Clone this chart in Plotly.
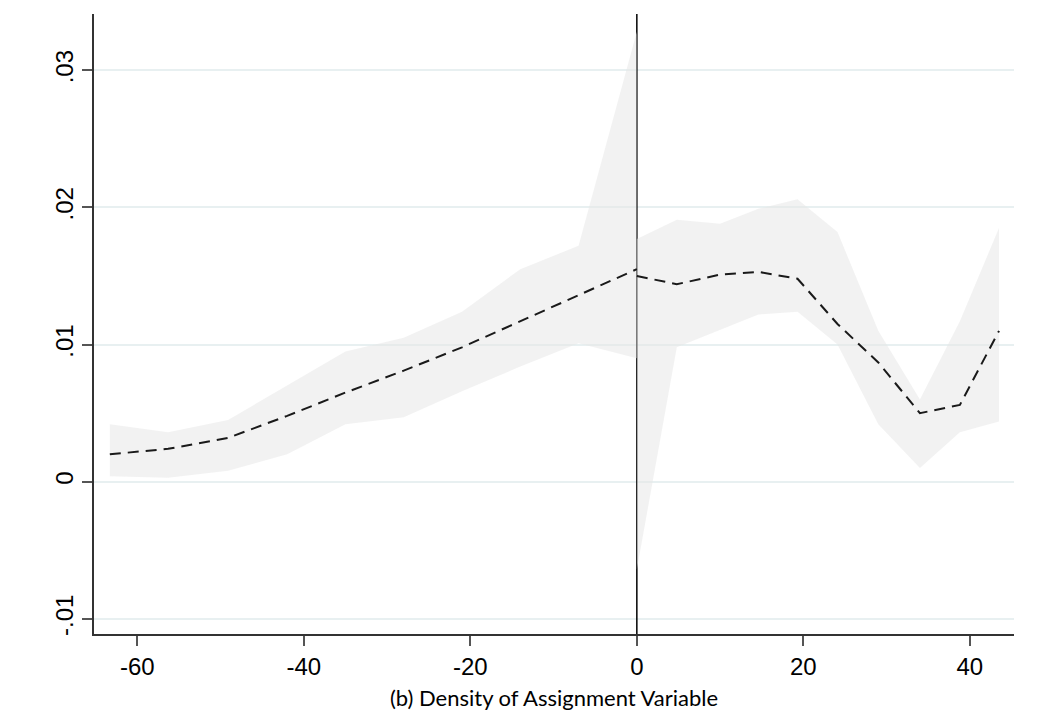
import plotly.graph_objects as go

# Left of cutoff
x_left = [-63.3, -56.3, -49.1, -42.0, -35.0, -28.0, -21.0, -14.0, -7.0, 0.0]
fit_left = [0.0020, 0.0024, 0.0032, 0.0048, 0.0065, 0.0081, 0.0098, 0.0117, 0.0136, 0.0155]
hi_left = [0.0042, 0.0036, 0.0045, 0.0070, 0.0095, 0.0105, 0.0124, 0.0155, 0.0172, 0.0328]
lo_left = [0.0004, 0.0003, 0.0008, 0.0020, 0.0042, 0.0047, 0.0066, 0.0084, 0.0101, 0.0090]

# Right of cutoff
x_right = [0.0, 4.8, 10.0, 14.6, 19.3, 24.1, 29.0, 34.0, 38.8, 43.5]
fit_right = [0.0150, 0.0144, 0.0151, 0.0153, 0.0148, 0.0115, 0.0087, 0.0050, 0.0056, 0.0110]
hi_right = [0.0177, 0.0191, 0.0188, 0.0199, 0.0206, 0.0182, 0.0110, 0.0060, 0.0117, 0.0185]
lo_right = [-0.0064, 0.0098, 0.0111, 0.0122, 0.0124, 0.0100, 0.0042, 0.0010, 0.0036, 0.0044]

cutoff = 0
x_range = [-65.2, 45.3]
y_range = [-0.0111, 0.0341]

y_ticks = [-0.01, 0, 0.01, 0.02, 0.03]
y_ticktext = ["-.01", "0", ".01", ".02", ".03"]
x_ticks = [-60, -40, -20, 0, 20, 40]
x_ticktext = ["-60", "-40", "-20", "0", "20", "40"]
x_title = "(b) Density of Assignment Variable"

fig = go.Figure()

# cutoff line (under the bands)
fig.add_trace(go.Scatter(x=[cutoff, cutoff], y=y_range, mode="lines",
                         line=dict(color="black", width=1.5), showlegend=False, hoverinfo="skip"))

band_color = "rgba(230,230,230,0.52)"
for xs, hi, lo in [(x_left, hi_left, lo_left), (x_right, hi_right, lo_right)]:
    fig.add_trace(go.Scatter(x=xs + xs[::-1], y=hi + lo[::-1], fill="toself",
                             fillcolor=band_color, line=dict(width=0), mode="lines",
                             showlegend=False, hoverinfo="skip"))

for xs, ys in [(x_left, fit_left), (x_right, fit_right)]:
    fig.add_trace(go.Scatter(x=xs, y=ys, mode="lines",
                             line=dict(color="#1a1a1a", width=2, dash="11px,7px"),
                             showlegend=False))

fig.update_layout(
    width=1061, height=719,
    margin=dict(l=94, r=47, t=14, b=83),
    plot_bgcolor="white", paper_bgcolor="white",
    font=dict(family="Liberation Sans, Arial", color="black"),
)
fig.update_xaxes(
    range=x_range, tickvals=x_ticks, ticktext=x_ticktext,
    showgrid=False, zeroline=False,
    showline=True, linecolor="#333333", linewidth=1.5,
    ticks="outside", ticklen=10, tickwidth=1.5, tickcolor="#555555",
    tickfont=dict(size=24, family="Liberation Sans"),
    title=dict(text=x_title, font=dict(size=22, family="Lato, Open Sans"), standoff=12),
)
fig.update_yaxes(
    range=y_range, tickvals=y_ticks, ticktext=y_ticktext, tickangle=-90,
    showgrid=True, gridcolor="#e8f0f1", gridwidth=2, zeroline=False,
    showline=True, linecolor="#333333", linewidth=1.5,
    ticks="outside", ticklen=10, tickwidth=1.5, tickcolor="#555555",
    tickfont=dict(size=24, family="Liberation Sans"),
)

fig.write_html("out.html")
